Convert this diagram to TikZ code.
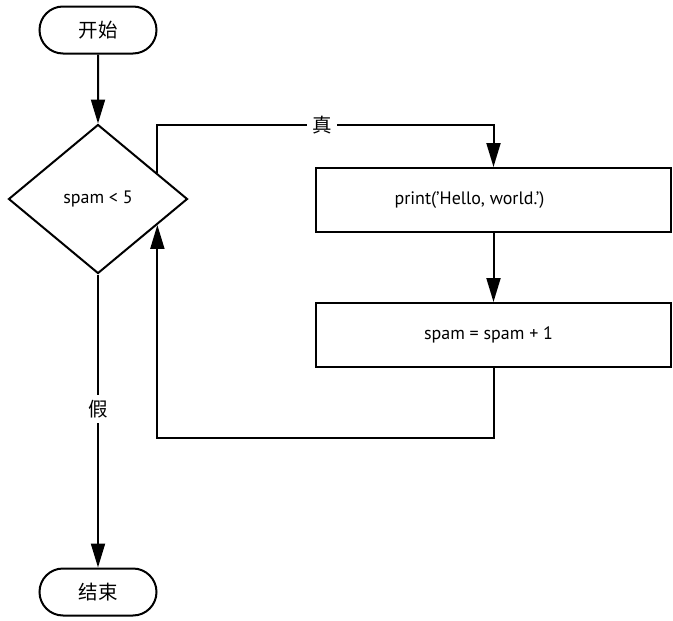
\documentclass[tikz,border=0pt]{standalone}
\usepackage{fontspec}
\setmainfont{PT Sans}
\newfontfamily\cjk{Noto Sans CJK SC}
\usetikzlibrary{shapes.geometric,shapes.misc,arrows.meta,calc}
\tikzset{
  base/.style={draw=black, line width=2pt, fill=white, inner sep=0pt, font=\fontsize{18}{21}\selectfont},
  term/.style={base, rounded rectangle, minimum width=117pt, minimum height=47pt, font=\cjk\fontsize{19.5}{22}\selectfont},
  cond/.style={base, diamond, minimum width=179pt, minimum height=149pt},
  proc/.style={base, rectangle, minimum width=355pt, minimum height=64pt},
  conn/.style={line width=2pt, draw=black, -{Triangle[length=24pt,width=14pt]}},
  lbl/.style={fill=white, inner sep=5pt, font=\cjk\fontsize{19.5}{22}\selectfont}
}
\begin{document}
\begin{tikzpicture}[x=1pt,y=-1pt]
\useasboundingbox (0,0) rectangle (673,621);
\fill[white] (0,0) rectangle (673,621);
\node[term] (start) at (98,30) {开始};
\node[cond] (d) at (98,199) {spam < 5};
\node[proc] (b1) at (493.5,200) {print('Hello, world.')\rule{48pt}{0pt}};
\node[proc] (b2) at (493.5,335) {spam = spam + 1\rule{10pt}{0pt}};
\node[term] (end) at (98,592) {结束};
\coordinate (t1) at ($(d.north)!0.656!(d.east)$);
\coordinate (t2) at ($(d.south)!0.656!(d.east)$);
\coordinate (tc) at (493.5,125);
\coordinate (lc) at (493.5,438);
\draw[conn] (start) -- (d.north);
\draw[conn] (t1) -- (t1 |- tc) -- node[lbl, pos=0.49]{真} (tc) -- (b1.north);
\draw[conn] (b1) -- (b2);
\draw[conn] (b2.south) -- (lc) -- (t2 |- lc) -- (t2);
\draw[conn] (d.south) -- node[lbl, pos=0.46]{假} (end.north);
\end{tikzpicture}
\end{document}
